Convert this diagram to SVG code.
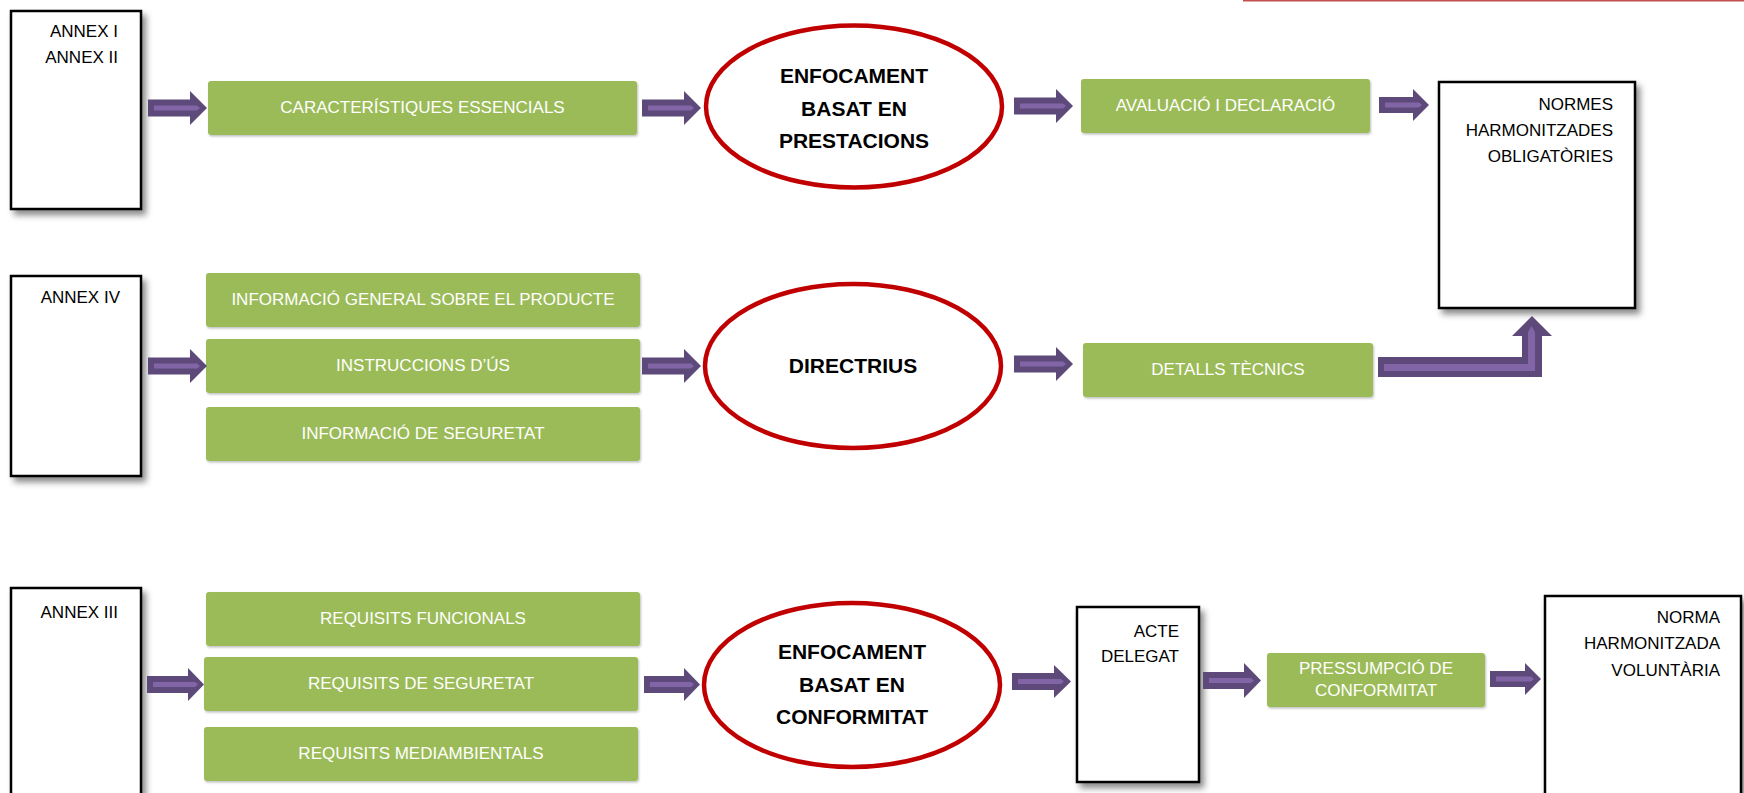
<svg xmlns="http://www.w3.org/2000/svg" width="1744" height="793" viewBox="0 0 1744 793">
<defs>
<filter id="sh" x="-10%" y="-10%" width="130%" height="130%">
<feDropShadow dx="4" dy="5" stdDeviation="3" flood-color="#000" flood-opacity="0.45"/>
</filter>
<filter id="gsh" x="-5%" y="-10%" width="110%" height="130%">
<feDropShadow dx="1" dy="1.5" stdDeviation="1" flood-color="#000" flood-opacity="0.25"/>
</filter>
</defs>
<style>
.bx{fill:#fff;stroke:#000;stroke-width:2.5;filter:url(#sh)}
.gr{fill:#9BBB59;filter:url(#gsh)}
.el{fill:#fff;stroke:#C00000;stroke-width:4.5}
.t{font-family:"Liberation Sans",Arial,sans-serif;font-size:17px;fill:#000}
.r{text-anchor:end}
.w{fill:#fff;text-anchor:middle}
.b{font-family:"Liberation Sans",Arial,sans-serif;font-size:21px;font-weight:bold;fill:#000;text-anchor:middle}
.ad{fill:#5D4A7B}
.al{fill:#8265A6}
</style>
<rect width="1744" height="793" fill="#fff"/>
<line x1="1243" y1="0.75" x2="1744" y2="0.75" stroke="#C0504D" stroke-width="1.5"/>

<g id="annex-i-ii"><rect class="bx" x="11" y="11" width="130" height="198"/><text class="t r" x="118" y="37">ANNEX I</text><text class="t r" x="118" y="63">ANNEX II</text></g>
<g id="caracteristiques"><rect class="gr" x="208" y="81" width="429" height="54" rx="3"/><text class="t w" x="422.5" y="113">CARACTERÍSTIQUES ESSENCIALS</text></g>
<g id="enfocament-prestacions"><ellipse class="el" cx="854" cy="106.5" rx="148" ry="81"/><text class="b" x="854" y="83">ENFOCAMENT</text><text class="b" x="854" y="116">BASAT EN</text><text class="b" x="854" y="148">PRESTACIONS</text></g>
<g id="avaluacio"><rect class="gr" x="1081" y="79" width="289" height="54" rx="3"/><text class="t w" x="1225.5" y="111">AVALUACIÓ I DECLARACIÓ</text></g>
<g id="normes-obligatories"><rect class="bx" x="1439" y="82" width="196" height="226"/><text class="t r" x="1613" y="110">NORMES</text><text class="t r" x="1613" y="136">HARMONITZADES</text><text class="t r" x="1613" y="162">OBLIGATÒRIES</text></g>

<g id="annex-iv"><rect class="bx" x="11" y="276" width="130" height="200"/><text class="t r" x="120" y="303">ANNEX IV</text></g>
<g id="info-general"><rect class="gr" x="206" y="273" width="434" height="54" rx="3"/><text class="t w" x="423" y="305">INFORMACIÓ GENERAL SOBRE EL PRODUCTE</text></g>
<g id="instruccions"><rect class="gr" x="206" y="339" width="434" height="54" rx="3"/><text class="t w" x="423" y="371">INSTRUCCIONS D’ÚS</text></g>
<g id="info-seguretat"><rect class="gr" x="206" y="407" width="434" height="54" rx="3"/><text class="t w" x="423" y="439">INFORMACIÓ DE SEGURETAT</text></g>
<g id="directrius"><ellipse class="el" cx="853" cy="366" rx="148" ry="82"/><text class="b" x="853" y="373">DIRECTRIUS</text></g>
<g id="detalls"><rect class="gr" x="1083" y="343" width="290" height="54" rx="3"/><text class="t w" x="1228" y="375">DETALLS TÈCNICS</text></g>

<g id="annex-iii"><rect class="bx" x="11" y="588" width="130" height="220"/><text class="t r" x="118" y="618">ANNEX III</text></g>
<g id="req-funcionals"><rect class="gr" x="206" y="592" width="434" height="54" rx="3"/><text class="t w" x="423" y="624">REQUISITS FUNCIONALS</text></g>
<g id="req-seguretat"><rect class="gr" x="204" y="657" width="434" height="54" rx="3"/><text class="t w" x="421" y="689">REQUISITS DE SEGURETAT</text></g>
<g id="req-mediambientals"><rect class="gr" x="204" y="727" width="434" height="54" rx="3"/><text class="t w" x="421" y="759">REQUISITS MEDIAMBIENTALS</text></g>
<g id="enfocament-conformitat"><ellipse class="el" cx="852" cy="685" rx="148" ry="82"/><text class="b" x="852" y="659">ENFOCAMENT</text><text class="b" x="852" y="692">BASAT EN</text><text class="b" x="852" y="724">CONFORMITAT</text></g>
<g id="acte-delegat"><rect class="bx" x="1077" y="607" width="122" height="175"/><text class="t r" x="1179" y="637">ACTE</text><text class="t r" x="1179" y="662">DELEGAT</text></g>
<g id="pressumpcio"><rect class="gr" x="1267" y="653" width="218" height="54" rx="3"/><text class="t w" x="1376" y="674">PRESSUMPCIÓ DE</text><text class="t w" x="1376" y="696">CONFORMITAT</text></g>
<g id="norma-voluntaria"><rect class="bx" x="1545" y="596" width="196" height="220"/><text class="t r" x="1720" y="623">NORMA</text><text class="t r" x="1720" y="649">HARMONITZADA</text><text class="t r" x="1720" y="676">VOLUNTÀRIA</text></g>

<g id="connectors">
<path class="ad" d="M148,99.5H190V91L207,108L190,125V116.5H148Z"/><path class="al" d="M154,105.5H197L200,108L197,110.5H154Z"/>
<path class="ad" d="M642,99.5H684V91L701,108L684,125V116.5H642Z"/><path class="al" d="M648,105.5H691L694,108L691,110.5H648Z"/>
<path class="ad" d="M1014,97.5H1056V89L1073,106L1056,123V114.5H1014Z"/><path class="al" d="M1020,103.5H1063L1066,106L1063,108.5H1020Z"/>
<path class="ad" d="M1379,97H1413V89L1429,105L1413,121V113H1379Z"/><path class="al" d="M1385,102.5H1419L1422,105L1419,107.5H1385Z"/>
<path class="ad" d="M148,357.5H190V349L207,366L190,383V374.5H148Z"/><path class="al" d="M154,363.5H197L200,366L197,368.5H154Z"/>
<path class="ad" d="M642,357.5H684V349L701,366L684,383V374.5H642Z"/><path class="al" d="M648,363.5H691L694,366L691,368.5H648Z"/>
<path class="ad" d="M1014,355.5H1056V347L1073,364L1056,381V372.5H1014Z"/><path class="al" d="M1020,361.5H1063L1066,364L1063,366.5H1020Z"/>
<path class="ad" d="M1378,357H1522V336H1512L1532,316L1552,336H1542V377H1378Z"/><path class="al" d="M1384,364H1528V332L1531.5,326L1535,332V371H1384Z"/>
<path class="ad" d="M147,676H188V668L204,684.5L188,701V693H147Z"/><path class="al" d="M153,682H195L198,684.5L195,687H153Z"/>
<path class="ad" d="M644,676H684V668L700,684.5L684,701V693H644Z"/><path class="al" d="M650,682H691L694,684.5L691,687H650Z"/>
<path class="ad" d="M1012,673H1054V665L1071,681.5L1054,698V690H1012Z"/><path class="al" d="M1018,679H1061L1064,681.5L1061,684H1018Z"/>
<path class="ad" d="M1203,672H1244V663L1261,680.5L1244,698V689H1203Z"/><path class="al" d="M1209,678H1251L1254,680.5L1251,683H1209Z"/>
<path class="ad" d="M1490,671H1525V663L1541,679L1525,695V687H1490Z"/><path class="al" d="M1496,676.5H1531L1534,679L1531,681.5H1496Z"/>
</g>
</svg>
